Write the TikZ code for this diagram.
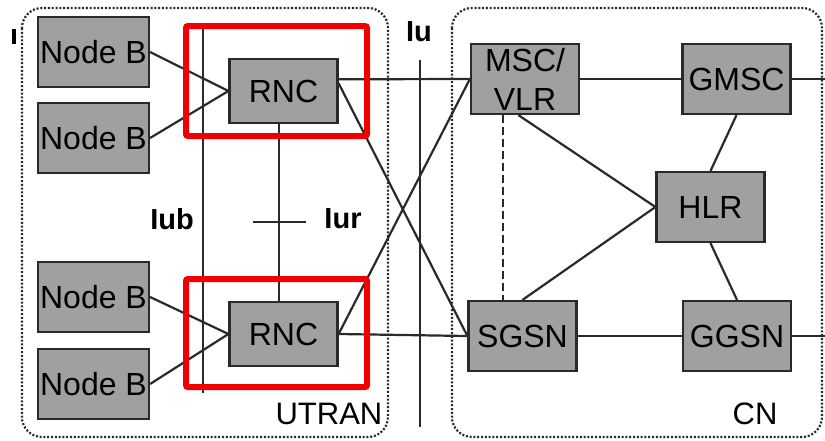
\documentclass[tikz,border=0pt]{standalone}
\usepackage{fontspec}
\setmainfont{Liberation Sans}
\usetikzlibrary{calc}
\definecolor{ubox}{HTML}{A0A0A0}
\definecolor{uline}{HTML}{2a2a2a}
\definecolor{ured}{HTML}{F00000}

\begin{document}
\begin{tikzpicture}[x=0.5pt,y=-0.5pt,
  elem/.style={draw=uline,fill=ubox,line width=1.1pt,inner sep=0pt,
    minimum width=54pt,minimum height=35pt,align=center,
    font=\fontsize{16}{19.5}\selectfont},
  link/.style={uline,line width=1.1pt},
  iface/.style={font=\bfseries\fontsize{14.5}{16}\selectfont},
  netarea/.style={uline,dash pattern=on 1pt off 0.9pt,line width=1.1pt,rounded corners=10pt},
  areaname/.style={font=\fontsize{15.5}{16}\selectfont}]
  \fill[white] (0,0) rectangle (825,440);
  \useasboundingbox (0,0) rectangle (825,440);

  % UTRAN and CN areas
  \draw[netarea] (22,8) rectangle (388,437);
  \draw[netarea] (452,8) rectangle (822,437);
  \fill[black] (12,29) rectangle (16,44);

  % Node B boxes
  \foreach \i/\y in {1/52,2/138,3/297,4/384} {
    \node[elem,minimum width=55.5pt] (nb\i) at (93.5,\y) {Node B};
  }

  % RNCs
  \node[elem,minimum height=32pt] (rnc1) at (283.5,91) {RNC};
  \node[elem,minimum height=32pt] (rnc2) at (283.5,334) {RNC};

  % core network elements
  \node[elem] (msc) at (525,79) {MSC/\\VLR};
  \node[elem] (gmsc) at (736.5,79) {GMSC};
  \node[elem] (hlr) at (710.5,207) {HLR};
  \node[elem] (sgsn) at (522.5,336) {SGSN};
  \node[elem] (ggsn) at (737,336) {GGSN};

  \coordinate (edge) at (825,0);
  \coordinate (mscd) at ($(msc.south west)!0.3!(msc.south east)$);
  \coordinate (msch) at ($(msc.south west)!0.44!(msc.south east)$);

  % Iub, Iur and Iu interfaces
  \coordinate (iubtop) at (203,25);
  \coordinate (iubbot) at (203,393);
  \draw[link] (iubtop) -- (iubbot);
  \node[iface] (iub) at (172,219) {Iub};
  \coordinate (iurl) at (253,222);
  \coordinate (iurr) at (306,222);
  \draw[link] (iurl) -- (iurr);
  \node[iface] (iur) at (343,219) {Iur};
  \coordinate (iutop) at (420,60);
  \coordinate (iubot) at (420,427);
  \draw[link] (iutop) -- (iubot);
  \node[iface] (iu) at (419,32) {Iu};

  % links
  \foreach \n/\r in {nb1/rnc1,nb2/rnc1,nb3/rnc2,nb4/rnc2}
    \draw[link] (\n.east) -- (\r.west);
  \draw[link] (rnc1.-98) -- (rnc2.98);
  \draw[link] (rnc1.12) -- (msc.west);
  \draw[link] (rnc1.8) -- (sgsn.west);
  \draw[link] (rnc2.east) -- (msc.west);
  \draw[link] (rnc2.east) -- (sgsn.west);
  \draw[link] (msc.east) -- (gmsc.west);
  \draw[link] (gmsc.east) -- (gmsc.east -| edge);
  \draw[link] (sgsn.east) -- (ggsn.west);
  \draw[link] (ggsn.east) -- (ggsn.east -| edge);
  \draw[link,dash pattern=on 4pt off 2pt] (mscd) -- (mscd |- sgsn.north);
  \draw[link] (msch) -- (hlr.west);
  \draw[link] (sgsn.north) -- (hlr.west);
  \draw[link] (gmsc.south) -- (hlr.north);
  \draw[link] (hlr.south) -- (ggsn.north);

  % area names
  \node[areaname] (utran) at (329,414) {UTRAN};
  \node[areaname] (cn) at (755,414) {CN};

  % highlight frames
  \draw[ured,line width=3pt,rounded corners=1pt] (186,26) rectangle (367,136);
  \draw[ured,line width=3pt,rounded corners=1pt] (186,279) rectangle (367,387);
\end{tikzpicture}
\end{document}
